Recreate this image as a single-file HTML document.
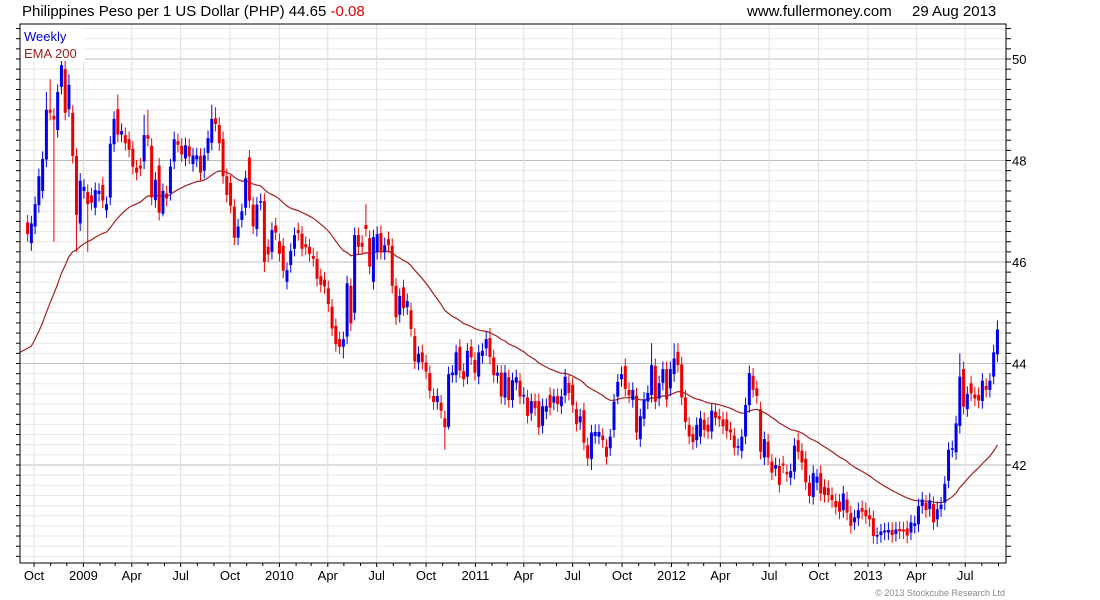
<!DOCTYPE html>
<html><head><meta charset="utf-8"><style>
html,body{margin:0;padding:0;background:#fff;}
svg{display:block;font-family:"Liberation Sans",sans-serif;}
</style></head><body>
<svg id="chart" width="1100" height="600" viewBox="0 0 1100 600">
<text x="22" y="16" font-size="15" fill="#000">Philippines Peso per 1 US Dollar (PHP) 44.65 <tspan fill="#e00000">-0.08</tspan></text>
<text x="747" y="16" font-size="15" fill="#000">www.fullermoney.com</text>
<text x="912" y="16" font-size="15" fill="#000">29 Aug 2013</text>
<g id="grid"></g>
<g id="marks"></g>
<g id="axes"></g>
<rect x="21" y="25" width="64" height="36" fill="#fff"/>
<text x="24" y="41" font-size="13" fill="#0000dd">Weekly</text>
<text x="24" y="58" font-size="13" fill="#a02020">EMA 200</text>
<text x="1005" y="596" font-size="9" fill="#888" text-anchor="end">© 2013 Stockcube Research Ltd</text>
</svg>
<script>
const opens = [46.78,46.37,46.70,47.12,47.40,48.02,49.0,48.88,48.60,49.45,49.80,49.01,48.94,48.09,46.76,47.40,47.38,47.31,47.07,47.34,47.52,47.02,47.27,48.32,49.01,48.51,48.50,48.42,48.23,47.86,47.90,47.98,48.50,48.29,47.22,47.90,46.95,47.35,47.36,47.98,48.38,48.29,48.04,48.28,47.93,48.02,48.09,47.80,48.15,48.35,48.83,48.70,48.42,47.69,47.56,47.09,46.48,46.83,47.07,48.06,47.13,46.65,47.17,47.20,46.30,46.20,46.72,
46.41,46.32,45.61,45.94,46.26,46.63,46.56,46.35,46.30,46.12,46.06,45.72,45.65,45.48,45.12,44.74,44.48,44.33,44.53,45.53,45.0,46.53,46.38,46.73,46.47,45.61,46.20,46.57,46.19,46.45,46.32,45.53,44.96,45.50,45.11,45.05,44.54,44.02,44.22,44.02,43.81,43.36,43.24,43.23,42.92,42.75,43.77,43.77,44.33,43.85,43.74,44.33,44.07,43.74,44.15,44.30,44.50,44.12,43.76,43.82,43.33,43.73,43.28,43.62,43.66,43.35,43.33,
43.02,43.26,43.26,42.77,43.05,43.38,43.23,43.36,43.16,43.37,43.62,43.58,43.10,42.84,43.08,42.39,42.12,42.57,42.56,42.58,42.36,42.33,42.69,43.35,43.69,43.95,43.48,43.28,43.37,42.51,42.91,43.25,43.38,43.95,43.31,43.62,43.89,43.51,43.79,44.23,43.98,43.33,42.79,42.61,42.49,42.56,42.89,42.79,42.66,43.05,42.96,42.90,42.90,42.70,42.58,42.34,42.28,42.56,43.18,43.76,43.51,43.10,42.15,42.46,42.07,41.93,41.98,
42.03,41.86,41.75,41.87,42.49,42.28,42.12,41.65,41.37,41.65,41.84,41.57,41.55,41.41,41.29,41.28,41.11,41.32,41.05,40.87,40.95,41.15,41.11,41.01,40.95,40.59,40.62,40.67,40.67,40.72,40.64,40.74,40.73,40.75,40.67,40.80,40.83,41.19,41.26,41.13,41.23,40.93,41.13,41.26,41.69,42.30,42.25,42.77,43.89,43.10,43.61,43.39,43.38,43.26,43.56,43.48,43.74,44.18];
const closes = [46.55,46.76,47.14,47.69,48.03,49.0,48.94,48.81,49.35,49.88,48.94,49.49,48.09,46.93,47.6,47.48,47.14,47.17,47.42,47.40,47.21,47.14,48.33,48.82,48.51,48.58,48.34,48.21,47.88,47.76,47.84,48.5,48.43,47.27,47.62,46.97,47.40,47.25,47.88,48.42,48.31,48.12,48.3,48.08,48.1,48.1,47.76,48.1,48.44,48.82,48.72,48.34,47.69,47.32,47.11,46.48,46.70,47.0,47.65,47.21,46.70,47.13,47.2,46.0,46.15,46.63,46.58,
46.16,45.83,45.84,46.22,46.53,46.57,46.26,46.29,46.16,46.06,45.67,45.55,45.52,45.17,44.69,44.38,44.33,44.48,45.58,44.79,46.53,46.30,46.30,46.65,45.91,46.49,46.55,46.20,46.33,46.33,45.53,44.91,45.33,45.09,45.23,44.68,44.04,44.19,44.03,43.84,43.46,43.24,43.36,43.07,42.74,43.79,43.82,44.22,43.86,43.69,44.25,44.12,43.82,44.22,44.25,44.48,44.13,43.77,43.82,43.35,43.82,43.28,43.67,43.73,43.35,43.38,42.97,
43.26,43.12,42.74,43.16,43.16,43.13,43.35,43.20,43.35,43.74,43.42,43.18,42.81,42.96,42.44,42.13,42.64,42.65,42.65,42.49,42.16,42.56,43.25,43.64,43.79,43.50,43.37,43.48,42.64,42.96,43.29,43.42,43.97,43.25,43.61,43.89,43.29,43.89,44.10,43.97,43.33,42.85,42.56,42.45,42.79,42.92,42.69,42.66,43.07,42.93,42.90,42.76,42.67,42.64,42.34,42.37,42.56,43.18,43.81,43.48,43.36,42.26,42.51,42.15,41.85,42.0,41.61,
41.99,41.82,41.88,42.38,42.26,42.05,41.66,41.39,41.84,41.77,41.44,41.41,41.41,41.31,41.17,41.08,41.44,41.06,40.80,40.97,41.11,41.08,40.99,40.93,40.60,40.62,40.69,40.71,40.72,40.62,40.73,40.69,40.69,40.61,40.87,40.85,41.19,41.32,41.11,41.30,40.87,41.13,41.22,41.63,42.30,42.33,42.82,43.74,43.15,43.40,43.41,43.31,43.27,43.66,43.48,43.66,44.22,44.67];
const highOverrides = {5:49.35,6:49.6,9:50.0,10:50.0,11:49.7,24:49.3,31:48.9,32:49.0,49:49.1,50:49.05,90:47.14,123:44.7,166:44.4,172:44.4,173:44.4,248:44.2,258:44.85};
const lowOverrides = {7:46.4,13:46.2,16:46.2,36:46.9,63:45.8,84:44.1,111:42.3,150:41.9,112:42.7};
const defaultWick = [0.15];
const emaSeed = [44.1];
const emaPeriodWeeks = [40];
const yTicks = [42,44,46,48,50];
const qLabels = ["Oct","2009","Apr","Jul","Oct","2010","Apr","Jul","Oct","2011","Apr","Jul","Oct","2012","Apr","Jul","Oct","2013","Apr","Jul"];
const startDate = [2008,8,19];

const L=20,R=1006,T=24,B=563;
const NS="http://www.w3.org/2000/svg";
const yS=v=>59+(50-v)*50.75;
const ref=Date.UTC(2013,0,1);
const xD=ms=>868+(ms-ref)/86400000*0.537;
const start=Date.UTC(startDate[0],startDate[1],startDate[2]);
const xI=i=>xD(start+i*7*86400000);
function mk(tag,attrs,parent){const e=document.createElementNS(NS,tag);for(const k in attrs)e.setAttribute(k,attrs[k]);parent.appendChild(e);return e;}
const grid=document.getElementById('grid'),marks=document.getElementById('marks'),axes=document.getElementById('axes');

// horizontal grid
for(let k=0;k<=60;k++){const v=40+k*0.2;const y=yS(v);if(y<T||y>B)continue;
  const major=Math.abs(v-Math.round(v))<1e-6&&Math.round(v)%2===0;
  const ln=mk('line',{x1:L,x2:R,y1:y,y2:y,stroke:major?'#bdbdbd':'#e8e8e8','stroke-width':1},grid);
  
  
  const t1=mk('line',{x1:R,x2:R+5,y1:y,y2:y,stroke:'#000'},axes);
  
  
  const t2=mk('line',{x1:L-4,x2:L,y1:y,y2:y,stroke:'#000'},axes);
  
  
}
yTicks.forEach(v=>{const t=mk('text',{x:R+6,y:yS(v)+5,'font-size':13,fill:'#000'},axes);t.textContent=v;
  
  });

// months
let qi=0;
for(let m=0;m<62;m++){const d=Date.UTC(2008,8+m,1);const x=xD(d);if(x<L||x>R)continue;
  const mo=new Date(d).getUTCMonth();
  const isQ=mo%3===0;
  if(isQ){const g=mk('line',{x1:x,x2:x,y1:T,y2:B,stroke:'#dedede'},grid);
    
    
    if(qi<qLabels.length){const t=mk('text',{x:x,y:580,'font-size':13,fill:'#000','text-anchor':'middle'},axes);t.textContent=qLabels[qi];
      
      }
    qi++;}
  const tk=mk('line',{x1:x,x2:x,y1:B,y2:B+(isQ?4:3),stroke:'#000'},axes);
  
  
}
const frame=mk('rect',{x:L,y:T,width:R-L,height:B-T,fill:'none',stroke:'#000','stroke-width':1},axes);



// EMA
const a=2/(emaPeriodWeeks[0]+1);let e=emaSeed[0];let pts=[];
closes.forEach((c,i)=>{e=e+a*(c-e);pts.push((i===0?L:xI(i)).toFixed(1)+','+yS(e).toFixed(1));});
const ema=mk('polyline',{points:pts.join(' '),fill:'none',stroke:'#a02020','stroke-width':1.2},marks);



// candles
closes.forEach((c,i)=>{const o=opens[i];const up=c>=o;const col=up?'#0000ee':'#ee0000';
  const hi=highOverrides[i]!==undefined?highOverrides[i]:Math.max(o,c)+defaultWick[0];
  const lo=lowOverrides[i]!==undefined?lowOverrides[i]:Math.min(o,c)-defaultWick[0];
  const x=xI(i);const g=mk('g',{},marks);
  
  
  mk('line',{x1:x,x2:x,y1:yS(hi),y2:yS(lo),stroke:col,'stroke-width':1},g);
  const yt=yS(Math.max(o,c)),yb=yS(Math.min(o,c));
  mk('rect',{x:x-1.5,y:yt,width:3,height:Math.max(1,yb-yt),fill:col},g);
});
</script>
</body></html>
